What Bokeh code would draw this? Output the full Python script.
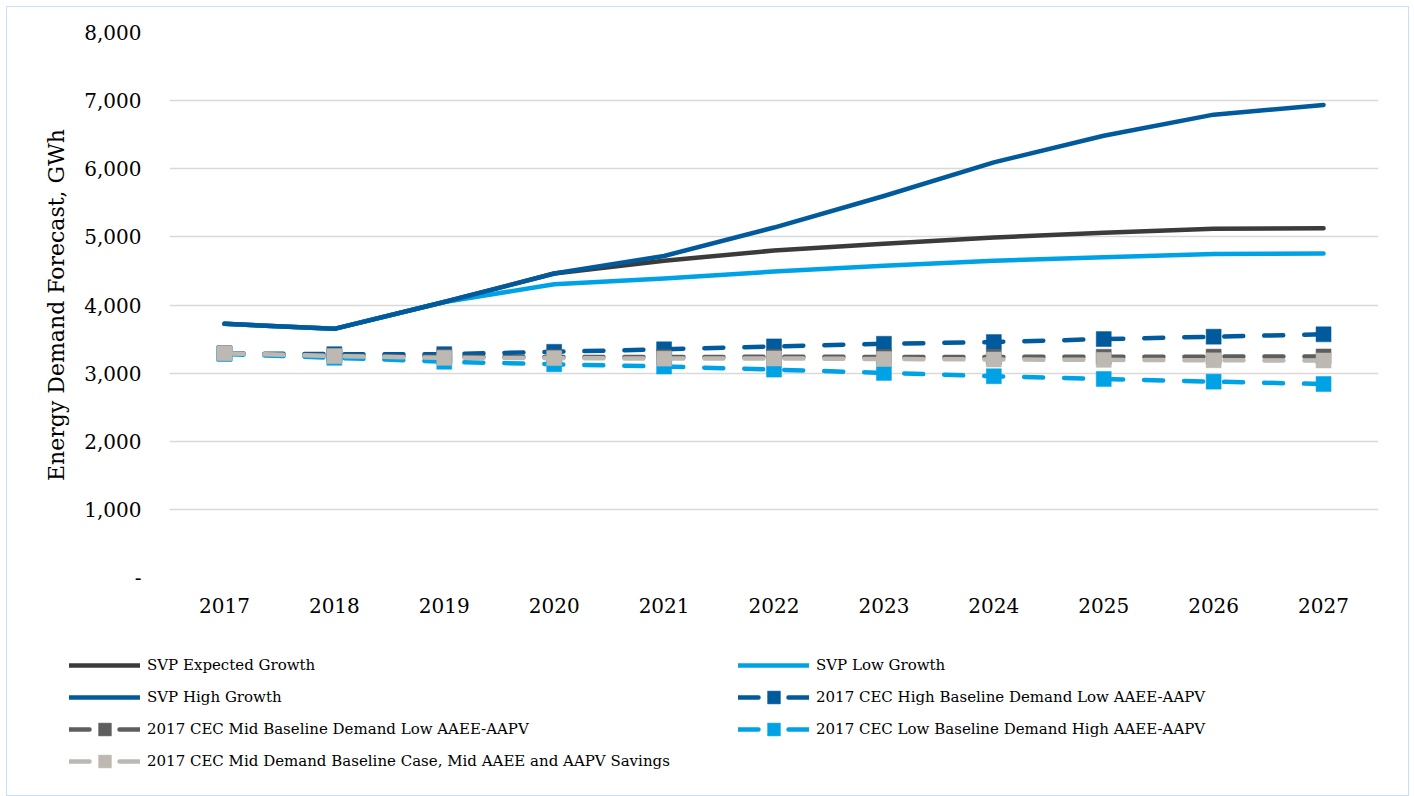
from bokeh.plotting import figure
from bokeh.models import Range1d, FixedTicker, Legend, LegendItem
from bokeh.layouts import column
from bokeh.embed import file_html
from bokeh.resources import INLINE

years = [2017, 2018, 2019, 2020, 2021, 2022, 2023, 2024, 2025, 2026, 2027]

svp_expected = [3724, 3650, 4044, 4462, 4650, 4800, 4900, 4990, 5060, 5120, 5128]
svp_low = [3724, 3650, 4044, 4305, 4390, 4490, 4575, 4650, 4700, 4750, 4755]
svp_high = [3724, 3650, 4044, 4462, 4720, 5137, 5600, 6093, 6485, 6794, 6937]
cec_high = [3290, 3278, 3278, 3313, 3350, 3392, 3431, 3456, 3500, 3535, 3569]
cec_mid_low = [3290, 3255, 3240, 3235, 3235, 3240, 3238, 3238, 3240, 3242, 3245]
cec_low = [3280, 3225, 3167, 3130, 3097, 3052, 3003, 2954, 2914, 2875, 2840]
cec_mid = [3290, 3250, 3225, 3220, 3213, 3215, 3207, 3200, 3195, 3188, 3185]

y_ticks = [0, 1000, 2000, 3000, 4000, 5000, 6000, 7000, 8000]
y_tick_labels = ["-", "1,000", "2,000", "3,000", "4,000", "5,000", "6,000", "7,000", "8,000"]

labels = [
    "SVP Expected Growth",
    "SVP Low Growth",
    "SVP High Growth",
    "2017 CEC High Baseline Demand Low AAEE-AAPV",
    "2017 CEC Mid Baseline Demand Low AAEE-AAPV",
    "2017 CEC Low Baseline Demand High AAEE-AAPV",
    "2017 CEC Mid Demand Baseline Case, Mid AAEE and AAPV Savings",
]

DARK_GRAY = "#3b3b3b"
DARK_BLUE = "#005a9c"
LIGHT_BLUE = "#00a2e6"
MID_GRAY = "#5e5e5e"
LIGHT_GRAY = "#bdb9b2"
FONT = "DejaVu Serif"

LW = 4.5
DASH = "19 21"
MS = 15

# ---------------- main chart ----------------
p = figure(width=1401, height=633,
           x_range=Range1d(2016.5, 2027.5), y_range=Range1d(0, 8000),
           output_backend="svg", toolbar_location=None,
           min_border_left=162, min_border_right=30,
           min_border_top=25, min_border_bottom=63)
p.frame_align = False
p.outline_line_color = None
p.background_fill_color = "white"
p.border_fill_color = "white"

p.xgrid.grid_line_color = None
p.ygrid.grid_line_color = "#d9d9d9"
p.ygrid.grid_line_width = 1.5
p.ygrid.ticker = FixedTicker(ticks=y_ticks)

p.xaxis.ticker = FixedTicker(ticks=years)
p.yaxis.ticker = FixedTicker(ticks=y_ticks)
p.yaxis.major_label_overrides = {t: l for t, l in zip(y_ticks, y_tick_labels)}
p.xaxis.major_label_overrides = {y: str(y) for y in years}

for ax in (p.xaxis, p.yaxis):
    ax.axis_line_color = None
    ax.major_tick_line_color = None
    ax.minor_tick_line_color = None
    ax.major_label_text_font = FONT
    ax.major_label_text_font_size = "20px"
    ax.major_label_text_color = "black"

p.yaxis.major_label_standoff = 22
p.xaxis.major_label_standoff = 14
p.yaxis.axis_label = "Energy Demand Forecast, GWh"
p.yaxis.axis_label_text_font = FONT
p.yaxis.axis_label_text_font_size = "22px"
p.yaxis.axis_label_text_font_style = "normal"
p.yaxis.axis_label_text_color = "black"
p.yaxis.axis_label_standoff = 12

def solid(fig, vals, color):
    return [fig.line(years, vals, line_width=LW, line_color=color,
                     line_cap="round", line_join="round")]

def dashed(fig, vals, color, dash=DASH):
    r1 = fig.line(years, vals, line_width=LW, line_color=color,
                  line_dash=dash, line_cap="round", line_join="round")
    r2 = fig.scatter(years, vals, marker="square", size=MS,
                     fill_color=color, line_color=color, line_width=0.5)
    return [r1, r2]

solid(p, svp_expected, DARK_GRAY)
solid(p, svp_low, LIGHT_BLUE)
solid(p, svp_high, DARK_BLUE)
dashed(p, cec_high, DARK_BLUE)
dashed(p, cec_mid_low, MID_GRAY)
dashed(p, cec_low, LIGHT_BLUE)
dashed(p, cec_mid, LIGHT_GRAY)

# ---------------- legend panel (series keys) ----------------
q = figure(width=1401, height=155,
           x_range=Range1d(0, 1401), y_range=Range1d(0, 155),
           output_backend="svg", toolbar_location=None,
           x_axis_location=None, y_axis_location=None,
           min_border_left=0, min_border_right=0,
           min_border_top=0, min_border_bottom=0)
q.frame_align = False
q.outline_line_color = None
q.xgrid.grid_line_color = None
q.ygrid.grid_line_color = None
q.background_fill_color = "white"
q.border_fill_color = "white"

# same series drawn in the legend panel (they fall outside its ranges,
# only their legend keys are visible)
KEY_DASH = "20 30"
k_exp = solid(q, svp_expected, DARK_GRAY)
k_low = solid(q, svp_low, LIGHT_BLUE)
k_high = solid(q, svp_high, DARK_BLUE)
k_ceh = dashed(q, cec_high, DARK_BLUE, KEY_DASH)
k_cml = dashed(q, cec_mid_low, MID_GRAY, KEY_DASH)
k_cel = dashed(q, cec_low, LIGHT_BLUE, KEY_DASH)
k_cmm = dashed(q, cec_mid, LIGHT_GRAY, KEY_DASH)

def make_legend(items, loc):
    return Legend(items=items, location=loc, orientation="vertical",
                  padding=0, margin=0, spacing=0,
                  glyph_width=71, glyph_height=32, label_height=32,
                  label_standoff=7, label_text_font=FONT,
                  label_text_font_size="15px", label_text_color="black",
                  border_line_color=None, background_fill_alpha=0)

leg1 = make_legend([
    LegendItem(label=labels[0], renderers=k_exp),
    LegendItem(label=labels[2], renderers=k_high),
    LegendItem(label=labels[4], renderers=k_cml),
    LegendItem(label=labels[6], renderers=k_cmm),
], (62, 18))
leg2 = make_legend([
    LegendItem(label=labels[1], renderers=k_low),
    LegendItem(label=labels[3], renderers=k_ceh),
    LegendItem(label=labels[5], renderers=k_cel),
], (731, 50))
q.add_layout(leg1)
q.add_layout(leg2)

layout = column(p, q, spacing=0,
                styles={"border": "1px solid #c8e1f7", "margin": "6px 0 0 6px"})

open("out.html", "w").write(file_html(layout, INLINE))
